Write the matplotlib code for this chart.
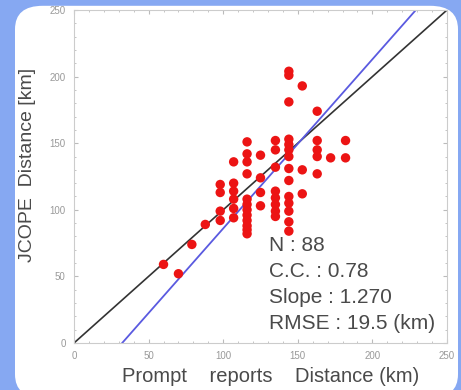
import matplotlib.pyplot as plt
from matplotlib.patches import FancyBboxPatch

plt.rcParams["font.family"] = ["Liberation Sans", "DejaVu Sans"]

# Prompt reports distance (km) vs JCOPE distance (km)
prompt_km = [60, 70, 79, 88,
             98, 98, 98, 98,
             107, 107, 107, 107, 107, 107,
             116, 116, 116, 116, 116, 116, 116, 116, 116, 116, 116, 116,
             125, 125, 125, 125,
             135, 135, 135, 135, 135, 135, 135, 135,
             144, 144, 144, 144, 144, 144, 144, 144, 144, 144, 144, 144, 144, 144,
             153, 153, 153,
             163, 163, 163, 163, 163,
             172,
             182, 182]
jcope_km = [59, 52, 74, 89,
            119, 113, 99, 92,
            136, 120, 114, 108, 101, 94,
            151, 142, 136, 127, 108, 104, 100, 96, 92, 88, 85, 82,
            141, 124, 113, 103,
            152, 145, 132, 114, 109, 104, 99, 95,
            204, 201, 181, 153, 149, 145, 140, 131, 122, 110, 105, 99, 91, 84,
            193, 130, 112,
            174, 152, 145, 140, 127,
            139,
            152, 139]

# regression line and 1:1 line
slope = 1.270
intercept = -41.0
line_x = [0, 250]

stats = ["N : 88", "C.C. : 0.78", "Slope : 1.270", "RMSE : 19.5 (km)"]
ticks = [0, 50, 100, 150, 200, 250]

fig = plt.figure(figsize=(4.61, 3.90), dpi=100, facecolor="#86a8f2")

# white rounded card behind the chart
card = FancyBboxPatch((15 / 461, -0.02), 443 / 461, 392 / 390,
                      boxstyle="round,pad=0,rounding_size=0.06",
                      transform=fig.transFigure, facecolor="white",
                      edgecolor="none", zorder=-5)
fig.patches.append(card)

ax = fig.add_axes([74 / 461, 1 - 343 / 390, 373 / 461, 333 / 390])
ax.set_zorder(2)
ax.set_facecolor("white")

ax.plot(line_x, line_x, color="#333333", lw=1.2, zorder=2)
ax.plot(line_x, [slope * x + intercept for x in line_x], color="#5a5ae0", lw=1.3, zorder=2)
ax.scatter(prompt_km, jcope_km, s=46, color="#ec1414", edgecolors="none", zorder=3)

ax.set_xlim(0, 250)
ax.set_ylim(0, 250)
ax.set_xticks(ticks)
ax.set_yticks(ticks)
ax.minorticks_on()
ax.tick_params(which="both", direction="in", top=True, right=True,
               colors="#bbbbbb", labelcolor="#999999", labelsize=7)
ax.tick_params(which="major", length=3, pad=6)
ax.tick_params(which="minor", length=1.5)
for sp in ax.spines.values():
    sp.set_color("#cccccc")

for i, s in enumerate(stats):
    ax.text(131, 73 - i * 19.5, s, fontsize=15, color="#4a4a4a", va="center")

ax.set_xlabel("Prompt    reports    Distance (km)", fontsize=14.5, color="#4a4a4a")
ax.xaxis.set_label_coords(0.528, -0.071)
ax.set_ylabel("JCOPE  Distance [km]", fontsize=14, color="#4a4a4a")
ax.yaxis.set_label_coords(-0.103, 0.535)

plt.savefig("out.png", dpi=100, facecolor=fig.get_facecolor())
